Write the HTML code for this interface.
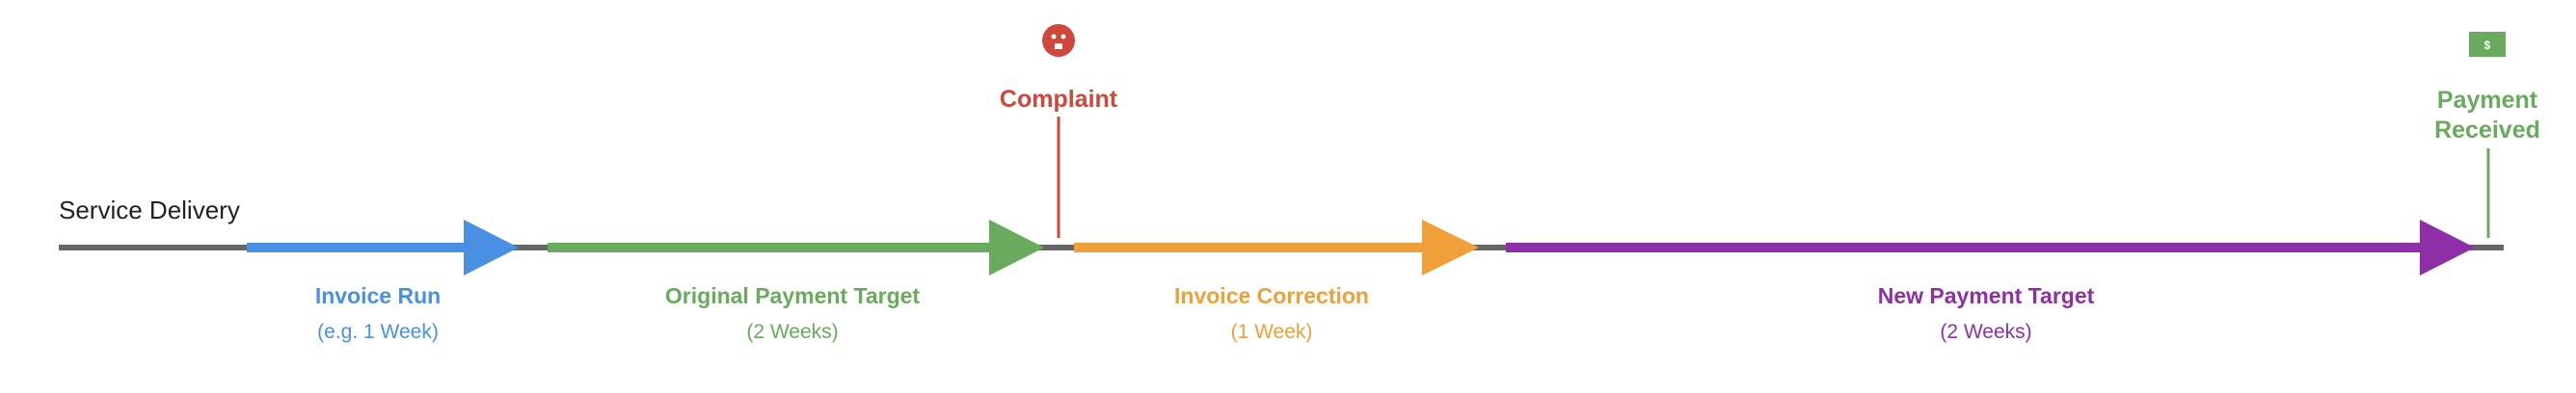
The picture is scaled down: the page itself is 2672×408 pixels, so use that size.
<!DOCTYPE html>
<html><head><meta charset="utf-8"><style>
html,body{margin:0;padding:0;background:#fff;}
svg{display:block;}
text{font-family:"Liberation Sans",sans-serif;}
</style></head><body>
<svg width="2672" height="408" viewBox="0 0 2672 408" xmlns="http://www.w3.org/2000/svg">
<line x1="61" y1="257" x2="2597" y2="257" stroke="#666" stroke-width="6"/>
<!-- blue -->
<rect x="256" y="252" width="230" height="10" fill="#4a90e2"/>
<polygon points="481,228 538,257 481,286" fill="#4a90e2"/>
<!-- green -->
<rect x="568" y="252" width="463" height="10" fill="#68ab5c"/>
<polygon points="1026,228 1083,257 1026,286" fill="#68ab5c"/>
<!-- orange -->
<rect x="1114" y="252" width="366" height="10" fill="#f0a03a"/>
<polygon points="1475,228 1534,257 1475,286" fill="#f0a03a"/>
<!-- purple -->
<rect x="1562" y="252" width="953" height="10" fill="#8e2fa8"/>
<polygon points="2510,228 2567,257 2510,286" fill="#8e2fa8"/>
<!-- markers -->
<line x1="1098" y1="121" x2="1098" y2="247" stroke="#d0473b" stroke-width="3"/>
<line x1="2581" y1="154" x2="2581" y2="247" stroke="#68ab5c" stroke-width="3"/>
<ellipse cx="1098" cy="42" rx="17" ry="17" fill="#d0473b"/>
<circle cx="1093" cy="38" r="2.5" fill="#fff"/><circle cx="1103" cy="38" r="2.5" fill="#fff"/>
<rect x="1094" y="45" width="8" height="6" fill="#fff"/>
<rect x="2561" y="33" width="38" height="26" fill="#68ab5c"/>
<text x="2580" y="51" font-size="12" fill="#fff" text-anchor="middle" font-weight="bold">$</text>
<!-- labels -->
<text x="61" y="227" font-size="26" fill="#222">Service Delivery</text>
<text x="1098" y="111" font-size="25" font-weight="bold" fill="#d0473b" text-anchor="middle">Complaint</text>
<text x="2580" y="112" font-size="25" font-weight="bold" fill="#68ab5c" text-anchor="middle">Payment</text>
<text x="2580" y="143" font-size="25" font-weight="bold" fill="#68ab5c" text-anchor="middle">Received</text>
<g text-anchor="middle">
<text x="392" y="315" font-size="23" font-weight="bold" fill="#4a90e2">Invoice Run</text>
<text x="392" y="351" font-size="21" fill="#4a90e2">(e.g. 1 Week)</text>
<text x="822" y="315" font-size="23" font-weight="bold" fill="#68ab5c">Original Payment Target</text>
<text x="822" y="351" font-size="21" fill="#68ab5c">(2 Weeks)</text>
<text x="1319" y="315" font-size="23" font-weight="bold" fill="#f0a03a">Invoice Correction</text>
<text x="1319" y="351" font-size="21" fill="#f0a03a">(1 Week)</text>
<text x="2060" y="315" font-size="23" font-weight="bold" fill="#8e2fa8">New Payment Target</text>
<text x="2060" y="351" font-size="21" fill="#8e2fa8">(2 Weeks)</text>
</g>
</svg>
</body></html>
